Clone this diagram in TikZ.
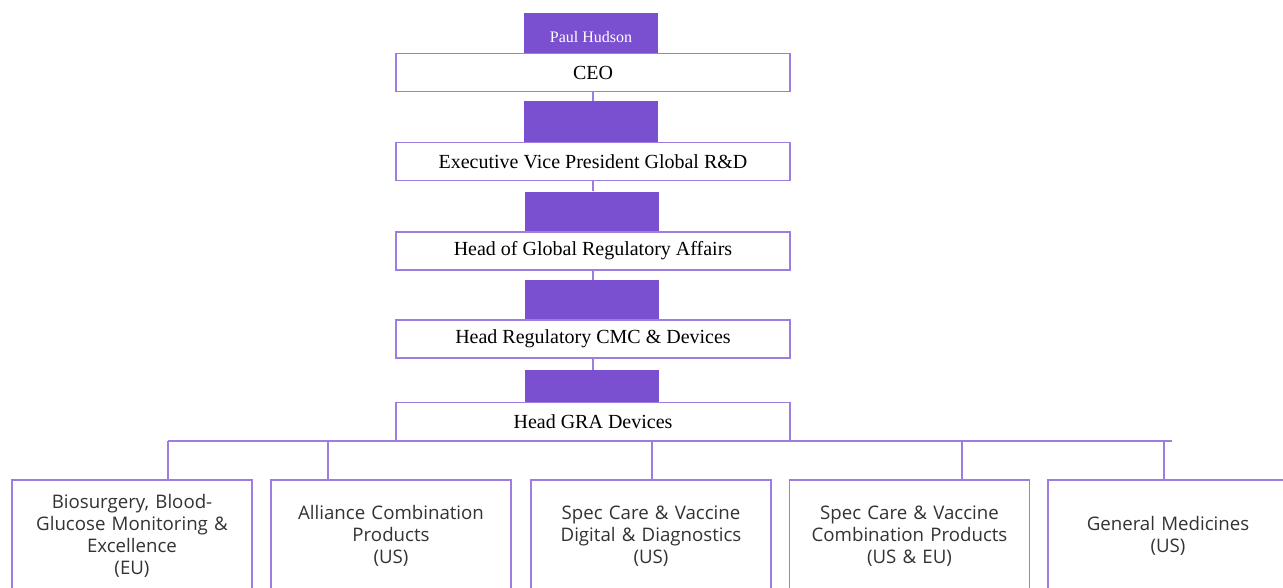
\documentclass[tikz,border=0pt]{standalone}
\usepackage{fontspec}
\setmainfont{Liberation Serif}
\newfontfamily\opensans{Open Sans}
\definecolor{barpurple}{HTML}{7B50D0}
\definecolor{linepurple}{HTML}{9D7EE0}
\definecolor{bodygray}{HTML}{333333}

\begin{document}
\begin{tikzpicture}[x=0.75pt,y=-0.75pt,
  namebar/.style={fill=barpurple, draw=none, minimum width=101pt, minimum height=30.5pt, inner sep=0pt, text=white, font=\fontsize{12}{14}\selectfont},
  rolebox/.style={draw=linepurple, line width=1.2pt, fill=white, minimum width=295.5pt, minimum height=28.5pt, inner sep=0pt, font=\fontsize{15}{17}\selectfont},
  teambox/.style={draw=linepurple, line width=1.2pt, fill=white, minimum width=180pt, minimum height=84pt, text width=176pt, align=center, inner sep=0pt, text=bodygray, font=\opensans\fontsize{14}{16.5}\selectfont},
  link/.style={draw=linepurple, line width=1.2pt}]
\clip (0,0) rectangle (1283,587);
\fill[white] (0,0) rectangle (1283,587);

% Purple bars
\node[namebar, text height=15pt, text depth=1pt] (bar1) at (591,33.5) {Paul Hudson};
\node[namebar] (bar2) at (591,121.5) {};
\node[namebar] (bar3) at (592,212) {};
\node[namebar] (bar4) at (592,300.5) {};
\node[namebar, minimum height=24.75pt] (bar5) at (592,386.5) {};

% Role boxes
\node[rolebox] (ceo) at (593,72.5) {CEO};
\node[rolebox] (evp) at (593,161.5) {Executive Vice President Global R\&D};
\node[rolebox] (gra) at (593,251) {Head of Global Regulatory Affairs};
\node[rolebox] (cmc) at (593,339) {Head Regulatory CMC \& Devices};
\node[rolebox] (dev) at (593,421.5) {Head GRA Devices};

% Links between levels
\draw[link] (ceo.south) -- (ceo.south |- bar2.north);
\draw[link] (evp.south) -- (evp.south |- bar3.north);
\draw[link] (gra.south) -- (gra.south |- bar4.north);
\draw[link] (cmc.south) -- (cmc.south |- bar5.north);

% Device teams
\node[teambox] (biosurg) at (132,536) {Biosurgery, Blood-\\Glucose Monitoring \&\\Excellence\\(EU)};
\node[teambox] (alliance) at (391,536) {Alliance Combination\\Products\\(US)};
\node[teambox] (digdiag) at (651,536) {Spec Care \& Vaccine\\Digital \& Diagnostics\\(US)};
\node[teambox] (combo) at (909.5,536) {Spec Care \& Vaccine\\Combination Products\\(US \& EU)};
\node[teambox] (genmed) at (1168,536) {General Medicines\\(US)};

% Bus line
\coordinate (busL) at (168,441);
\coordinate (busR) at (1172,441);
\draw[link] (busL) -- (busR);
\draw[link] (busL) -- (busL |- biosurg.north);
\draw[link] (328,441) -- (328,441 |- alliance.north);
\draw[link] (652,441) -- (652,441 |- digdiag.north);
\draw[link] (962,441) -- (962,441 |- combo.north);
\draw[link] (1164,441) -- (1164,441 |- genmed.north);
\end{tikzpicture}
\end{document}
